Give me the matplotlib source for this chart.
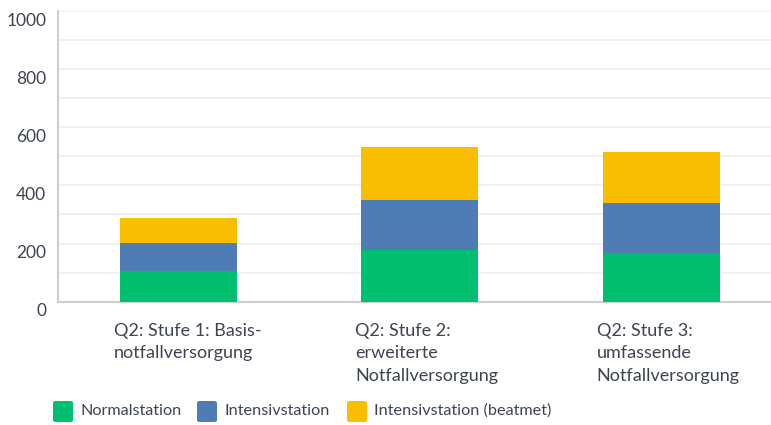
import matplotlib.pyplot as plt
import matplotlib.transforms as mtransforms
from matplotlib.patches import FancyBboxPatch
import numpy as np

# Daten
categories = ["Q2: Stufe 1: Basis-\nnotfallversorgung",
              "Q2: Stufe 2:\nerweiterte\nNotfallversorgung",
              "Q2: Stufe 3:\numfassende\nNotfallversorgung"]
series_names = ["Normalstation", "Intensivstation", "Intensivstation (beatmet)"]
normalstation = [106, 178, 167]
intensivstation = [96, 173, 173]
intensiv_beatmet = [87, 182, 176]
yticks = [0, 200, 400, 600, 800, 1000]

colors = ["#00bf6f", "#507cb6", "#f9be00"]
text_color = "#3d4552"

plt.rcParams['font.family'] = ['Lato', 'DejaVu Sans']

W, H = 771, 425
fig = plt.figure(figsize=(W / 100, H / 100), dpi=100)
# Achse: links 57.5px, rechts ueber den Bildrand hinaus (782px)
ax = fig.add_axes([57.5 / W, 1 - 301.7 / H, (782 - 57.5) / W, (301.7 - 11) / H])

x = np.arange(len(categories))
bottom = np.zeros(len(categories))
for vals, col, name in zip([normalstation, intensivstation, intensiv_beatmet], colors, series_names):
    ax.bar(x, vals, width=0.484, bottom=bottom, color=col, label=name, zorder=3)
    bottom += np.array(vals)

ax.set_xlim(-0.5, len(categories) - 0.5)
ax.set_ylim(0, 1000)
ax.set_yticks(yticks)
ax.set_yticks(np.arange(0, 1001, 100), minor=True)
ax.yaxis.grid(True, which='both', color='#ececec', linewidth=1.2, zorder=0)
ax.tick_params(axis='y', which='both', length=0, labelsize=12.5, labelcolor=text_color, pad=8)
# Beschriftungen leicht nach unten versetzt
offset = mtransforms.ScaledTranslation(0, -8 / 100, fig.dpi_scale_trans)
for lbl in ax.get_yticklabels():
    lbl.set_transform(lbl.get_transform() + offset)

ax.set_xticks([])
for i, cat in enumerate(categories):
    ax.text(i - 0.242 - 6 / 241.5, -0.072, cat, transform=ax.get_xaxis_transform(),
            ha='left', va='top', fontsize=13, color=text_color, linespacing=1.5)

for s in ['top', 'right']:
    ax.spines[s].set_visible(False)
for s in ['left', 'bottom']:
    ax.spines[s].set_color('#d0d0d0')
    ax.spines[s].set_linewidth(1.5)

# Legende manuell
legend_x = [53, 197, 347]
for lx, col, name in zip(legend_x, colors, series_names):
    box = FancyBboxPatch((lx / W, 1 - 422 / H), 20 / W, 21 / H,
                         boxstyle="round,pad=0,rounding_size=0.004",
                         transform=fig.transFigure, facecolor=col, edgecolor='none')
    fig.patches.append(box)
    fig.text((lx + 27) / W, 1 - 411 / H, name, ha='left', va='center',
             fontsize=11.7, color=text_color)

fig.savefig("out.png", dpi=100)
